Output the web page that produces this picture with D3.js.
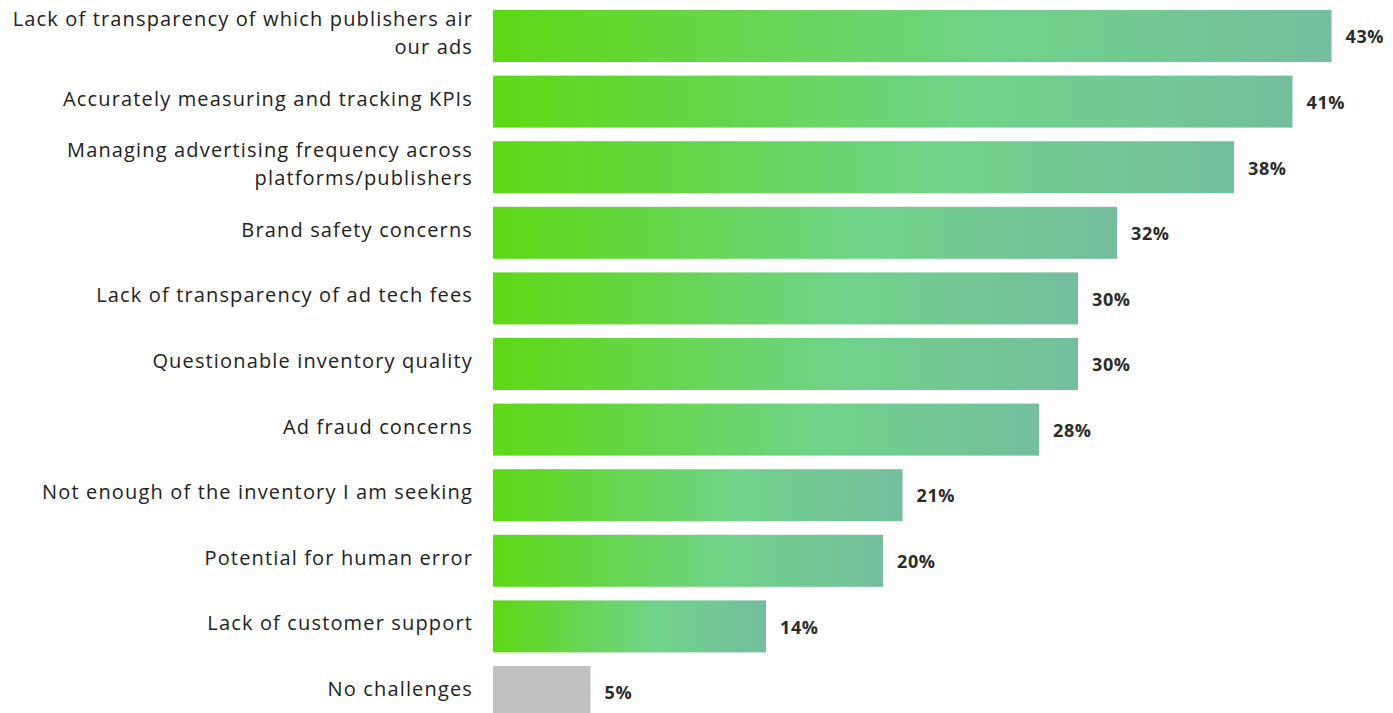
<!DOCTYPE html>
<html lang="en">
<head>
    <meta charset="UTF-8">
    <script src="https://d3js.org/d3.v7.min.js"></script>
    <style>
        body { margin: 0; background: white; font-family: "Open Sans", Lato, sans-serif; }
        svg { display: block; }
    </style>
</head>
<body>
    <div id="chart"></div>
    <script>
        // data
        const categories = [
            "Lack of transparency of which publishers air|our ads",
            "Accurately measuring and tracking KPIs",
            "Managing advertising frequency across|platforms/publishers",
            "Brand safety concerns",
            "Lack of transparency of ad tech fees",
            "Questionable inventory quality",
            "Ad fraud concerns",
            "Not enough of the inventory I am seeking",
            "Potential for human error",
            "Lack of customer support",
            "No challenges"
        ];
        const values = [43, 41, 38, 32, 30, 30, 28, 21, 20, 14, 5];
        const greyCategories = ["No challenges"];

        const width = 1393, height = 713;
        const left = 493;

        const svg = d3.select("#chart").append("svg")
            .attr("width", width)
            .attr("height", height);

        const grad = svg.append("defs").append("linearGradient")
            .attr("id", "barGrad")
            .attr("x1", "0%").attr("x2", "100%")
            .attr("y1", "0%").attr("y2", "0%");
        grad.append("stop").attr("offset", "0%").attr("stop-color", "rgb(93,217,20)");
        grad.append("stop").attr("offset", "60%").attr("stop-color", "rgb(112,210,138)");
        grad.append("stop").attr("offset", "100%").attr("stop-color", "rgb(116,190,158)");

        const x = d3.scaleLinear().domain([0, 43]).range([left, left + 838.5]);
        const y = d3.scaleBand()
            .domain(categories)
            .range([10, 718])
            .paddingInner(0.207)
            .paddingOuter(0);

        const rows = svg.selectAll("g.row")
            .data(categories.map((c, i) => ({ cat: c, val: values[i] })))
            .enter().append("g")
            .attr("class", "row");

        rows.append("rect")
            .attr("x", x(0))
            .attr("y", d => y(d.cat))
            .attr("width", d => x(d.val) - x(0))
            .attr("height", y.bandwidth())
            .attr("fill", d => greyCategories.includes(d.cat) ? "#c0c0c0" : "url(#barGrad)");

        // value labels
        rows.append("text")
            .attr("x", d => x(d.val) + 14)
            .attr("y", d => y(d.cat) + y.bandwidth() / 2 + 1)
            .attr("dy", "0.35em")
            .style("font-size", "18px")
            .style("font-weight", "bold")
            .style("letter-spacing", "0.6px")
            .style("fill", "#2b2b2b")
            .text(d => d.val + "%");

        // category labels (| = line break)
        rows.each(function(d) {
            const lines = d.cat.split("|");
            const cy = y(d.cat) + y.bandwidth() / 2 - 3;
            const t = d3.select(this).append("text")
                .attr("text-anchor", "end")
                .style("font-size", "20px")
                .style("letter-spacing", "1.15px")
                .style("fill", "#222");
            lines.forEach((l, i) => {
                t.append("tspan")
                    .attr("x", 473)
                    .attr("y", cy + (i - (lines.length - 1) / 2) * 28)
                    .attr("dy", "0.35em")
                    .text(l);
            });
        });
    </script>
</body>
</html>
